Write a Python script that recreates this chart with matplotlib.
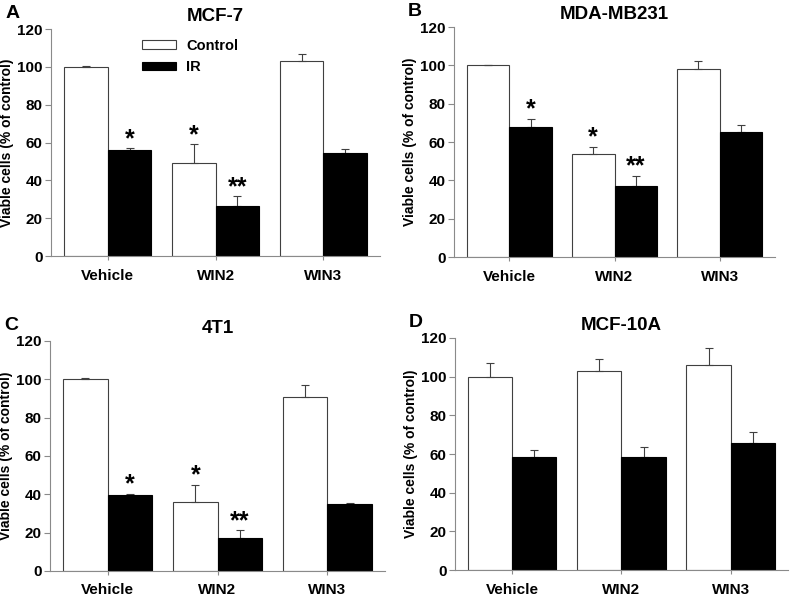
import numpy as np
import matplotlib
matplotlib.use("Agg")
import matplotlib.pyplot as plt

plt.rcParams["font.family"] = ["Liberation Sans", "DejaVu Sans"]
plt.rcParams["font.weight"] = "bold"

#Data
groups = ["Vehicle", "WIN2", "WIN3"]
panels = ["A", "B", "C", "D"]
titles = ["MCF-7", "MDA-MB231", "4T1", "MCF-10A"]

control_mean = [[100, 49.4, 102.9], [100, 53.8, 98.3], [100, 36.0, 90.8], [100, 102.8, 106.0]]
control_err = [[0.3, 9.7, 3.7], [0, 3.8, 4.0], [0.5, 9.0, 6.4], [6.9, 6.3, 8.9]]
ir_mean = [[55.8, 26.2, 54.7], [67.8, 37.3, 65.4], [39.8, 17.4, 34.8], [58.7, 58.2, 65.8]]
ir_err = [[1.2, 5.3, 1.8], [4.2, 5.2, 3.4], [0.5, 3.8, 0.5], [3.6, 5.2, 5.7]]
control_sig = [["", "*", ""], ["", "*", ""], ["", "*", ""], ["", "", ""]]
ir_sig = [["*", "**", ""], ["*", "**", ""], ["*", "**", ""], ["", "", ""]]

#Axes boxes in figure fractions (left, bottom, width, height)
boxes = [
    [0.0646, 0.5719, 0.4165, 0.3796],
    [0.5747, 0.5702, 0.4063, 0.3846],
    [0.0633, 0.0452, 0.4241, 0.3846],
    [0.5759, 0.0468, 0.4215, 0.3880],
]

fig = plt.figure(figsize=(7.9, 5.98), dpi=100)
width = 0.405
axis_color = "#8a8a8a"

def draw_panel(i):
    ax = fig.add_axes(boxes[i])
    x = np.arange(len(groups))
    ax.bar(x - width / 2, control_mean[i], width, color="white", edgecolor="#404040",
           linewidth=0.8, label="Control", zorder=2)
    ax.bar(x + width / 2, ir_mean[i], width, color="black", edgecolor="black",
           linewidth=0.8, label="IR", zorder=2)
    ax.errorbar(x - width / 2, control_mean[i], yerr=[np.zeros(3), control_err[i]],
                fmt="none", ecolor="#404040", elinewidth=0.8, capsize=3, capthick=0.8, zorder=3)
    ax.errorbar(x + width / 2, ir_mean[i], yerr=[np.zeros(3), ir_err[i]],
                fmt="none", ecolor="#404040", elinewidth=0.8, capsize=3, capthick=0.8, zorder=1)

    #significance stars
    for j in range(len(groups)):
        if control_sig[i][j]:
            ax.annotate(control_sig[i][j], (x[j] - width / 2, control_mean[i][j] + control_err[i][j]),
                        xytext=(0, -2), textcoords="offset points", ha="center", va="bottom",
                        fontsize=18, fontweight="bold")
        if ir_sig[i][j]:
            ax.annotate(ir_sig[i][j], (x[j] + width / 2, ir_mean[i][j] + ir_err[i][j]),
                        xytext=(0, -2), textcoords="offset points", ha="center", va="bottom",
                        fontsize=18, fontweight="bold")

    ax.set_xlim(-0.525, 2.525)
    ax.set_ylim(0, 120)
    ax.set_yticks(range(0, 121, 20))
    ax.set_xticks(x)
    ax.set_xticklabels(groups, fontsize=11, fontweight="bold")
    ax.tick_params(axis="y", labelsize=11, length=4, color=axis_color, width=0.8, pad=2)
    ax.tick_params(axis="x", length=3, color=axis_color, width=0.8, pad=6)
    for lab in ax.get_yticklabels():
        lab.set_fontweight("bold")
    ax.spines["top"].set_visible(False)
    ax.spines["right"].set_visible(False)
    ax.spines["left"].set_color(axis_color)
    ax.spines["bottom"].set_color(axis_color)
    ax.set_ylabel("Viable cells (% of control)", fontsize=10, fontweight="bold", labelpad=2)
    ax.set_title(titles[i], fontsize=13.5, fontweight="bold", pad=6)
    ax.annotate(panels[i], (0, 1), xycoords="axes fraction", xytext=(-33, 11.5),
                textcoords="offset points", fontsize=14, fontweight="bold",
                ha="left", va="center")
    return ax

for i in range(4):
    ax = draw_panel(i)
    if i == 0:
        ax.legend(loc="upper left", bbox_to_anchor=(0.255, 0.99), frameon=False,
                  fontsize=10.5, handlelength=2.3, handleheight=0.5, borderpad=0,
                  handletextpad=0.7, labelspacing=0.5)

fig.savefig("out.png", dpi=100)
